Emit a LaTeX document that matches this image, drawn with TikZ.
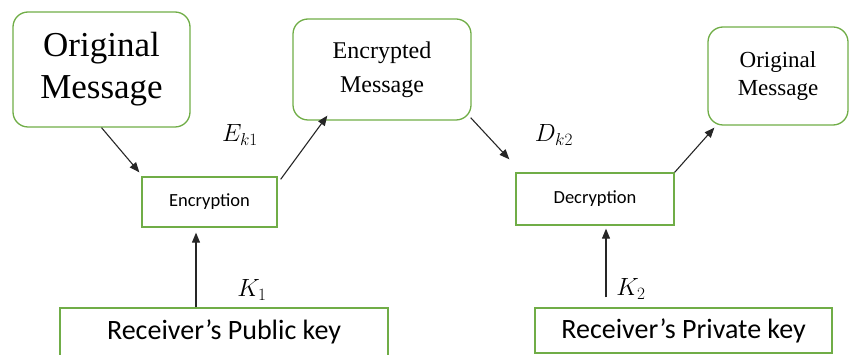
\documentclass[tikz,border=0pt]{standalone}
\usepackage{fontspec}
\setmainfont{Liberation Serif}
\newfontfamily\calibri{Carlito}
\usetikzlibrary{arrows.meta}
\definecolor{boxgreen}{RGB}{112,173,71}
\begin{document}
\begin{tikzpicture}[x=1pt,y=-1pt,
    msgbox/.style={draw=boxgreen, line width=1.3pt, rounded corners=15pt, align=center, inner sep=0pt},
    opbox/.style={draw=boxgreen, line width=1.3pt, inner sep=0pt, font=\calibri\fontsize{18.5}{22}\selectfont},
    keybox/.style={draw=boxgreen, line width=1.3pt, inner sep=0pt, font=\calibri\fontsize{28}{34}\selectfont},
    keylabel/.style={font=\fontsize{25}{30}\selectfont},
    arr/.style={line width=1.1pt, black!85, -{Triangle[length=10pt,width=8pt]}}]
\useasboundingbox (0,0) rectangle (849,355);
% Message boxes
\node[msgbox, minimum width=177pt, minimum height=115pt, font=\fontsize{35}{42}\selectfont] (orig) at (101.5,69.5) {Original\\Message};
\node[msgbox, minimum width=178pt, minimum height=101pt, font=\fontsize{24}{34}\selectfont] (encmsg) at (382,69.5) {Encrypted\\Message};
\node[msgbox, minimum width=140pt, minimum height=98pt, font=\fontsize{23}{28}\selectfont] (origout) at (778,76) {Original\\Message};
% Encryption and decryption
\node[opbox, minimum width=135pt, minimum height=50pt] (enc) at (209.5,202) {Encryption};
\node[opbox, minimum width=158pt, minimum height=52pt] (dec) at (595,199) {Decryption};
% Keys
\node[keybox, minimum width=328pt, minimum height=48pt] (pubkey) at (224,332) {Receiver’s Public key};
\node[keybox, minimum width=297pt, minimum height=45pt] (privkey) at (683.5,330.5) {Receiver’s Private key};
% Labels
\node[keylabel] (ek) at (240,135) {$E_{k1}$};
\node[keylabel] (dk) at (554,135) {$D_{k2}$};
\node[keylabel] (kone) at (252,290) {$K_1$};
\node[keylabel] (ktwo) at (631,289) {$K_2$};
% Arrows
\draw[arr] (orig.south) -- ([shift={(-2pt,4pt)}]enc.north west);
\draw[arr] ([shift={(3pt,-3pt)}]enc.north east) -- ([shift={(35pt,5pt)}]encmsg.south west);
\draw[arr] ([shift={(-1pt,3pt)}]encmsg.south east) -- ([shift={(-6pt,13pt)}]dec.north west);
\draw[arr] (dec.north east) -- ([shift={(7pt,-2pt)}]origout.south west);
\draw[arr] ([xshift=-28pt]pubkey.north) -- ([shift={(-13.5pt,-5pt)}]enc.south);
\draw[arr] ([shift={(-77.5pt,10pt)}]privkey.north) -- ([shift={(11pt,-3pt)}]dec.south);
\end{tikzpicture}
\end{document}
